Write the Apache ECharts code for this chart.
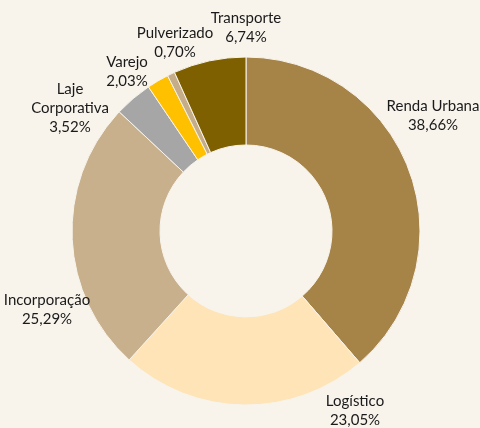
<!DOCTYPE html>
<html style="height: 100%">
<head>
    <meta charset="utf-8">
    <title>Segmentos</title>
</head>
<body style="height: 100%; margin: 0; background: #f8f4ec">
    <div id="container" style="width: 480px; height: 428px"></div>
    <script src="https://cdn.jsdelivr.net/npm/echarts@6/dist/echarts.min.js"></script>
    <script type="text/javascript">
        // dados (%)
        var categorias = ['Renda Urbana', 'Logístico', 'Incorporação', 'Laje\nCorporativa', 'Varejo', 'Pulverizado', 'Transporte'];
        var valores = [38.66, 23.05, 25.29, 3.52, 2.03, 0.70, 6.74];
        var cores = ['#a68347', '#fee4b6', '#c7b08b', '#a6a6a6', '#ffc000', '#c4ad88', '#7f6000'];

        // posição dos rótulos (centro do texto)
        var posRotulos = [[433, 116], [355, 411], [47, 310], [70, 108], [127, 72], [175, 43], [246, 28]];

        var dom = document.getElementById("container");
        var myChart = echarts.init(dom);

        var data = categorias.map(function (nome, i) {
            return { name: nome, value: valores[i], itemStyle: { color: cores[i] } };
        });

        var option = {
            backgroundColor: '#f8f4ec',
            animation: false,
            series: [{
                type: 'pie',
                center: [246, 231],
                radius: [86, 174],
                startAngle: 90,
                clockwise: true,
                data: data,
                itemStyle: {
                    borderColor: '#f8f4ec',
                    borderWidth: 1
                },
                label: {
                    show: true,
                    position: 'inside',
                    overflow: 'none',
                    fontFamily: 'Lato',
                    fontSize: 15,
                    lineHeight: 19,
                    color: '#1a1a1a',
                    align: 'center',
                    formatter: function (p) {
                        return p.name + '\n' + p.value.toFixed(2).replace('.', ',') + '%';
                    }
                },
                labelLine: { show: false },
                labelLayout: function (params) {
                    var p = posRotulos[params.dataIndex];
                    return { x: p[0], y: p[1], align: 'center', verticalAlign: 'middle' };
                }
            }]
        };
        myChart.setOption(option);
    </script>
</body>
</html>
